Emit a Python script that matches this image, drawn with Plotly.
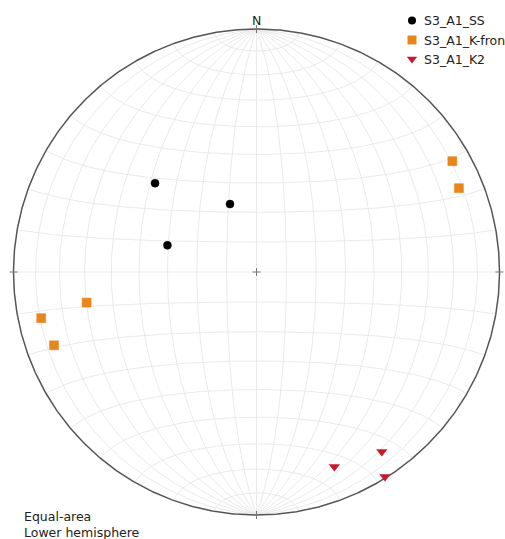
import numpy as np
import plotly.graph_objects as go

# ---- data (trend, plunge in degrees) ----
ss_trend = [311.2, 338.7, 286.7]
ss_plunge = [43.8, 65.5, 58.6]
kf_trend = [60.5, 67.5, 259.8, 257.9, 250.1]
kf_plunge = [8.2, 10.8, 29.7, 10.3, 12.4]
k2_trend = [158.2, 145.1, 147.9]
k2_plunge = [14.8, 10.8, 0.6]
series_names = ["S3_A1_SS", "S3_A1_K-fron", "S3_A1_K2"]
series_colors = ["#000000", "#e8861e", "#c8182c"]
series_symbols = ["circle", "square", "triangle-down"]

# ---- layout constants (pixels) ----
W, H = 505, 539
CX, CY, R = 256.5, 272.0, 243.0
FONT = "DejaVu Sans, Liberation Sans, sans-serif"


def project(E, N, D):
    """Equal-area lower-hemisphere projection of direction cosines."""
    E, N, D = np.asarray(E, float), np.asarray(N, float), np.asarray(D, float)
    s = 1.0 / np.sqrt(1.0 + D)
    return E * s, N * s


def line_xy(trend, plunge):
    t = np.radians(trend)
    p = np.radians(plunge)
    E = np.cos(p) * np.sin(t)
    N = np.cos(p) * np.cos(t)
    D = np.sin(p)
    return project(E, N, D)


def px2x(px):
    return (px - CX) / R


def px2y(py):
    return (CY - py) / R


fig = go.Figure()

# ---- Schmidt net grid ----
gx, gy = [], []
a = np.radians(np.linspace(-90, 90, 181))
for lam in range(10, 180, 10):  # meridians through N and S
    L = np.radians(lam)
    E = np.cos(a) * np.cos(L)
    N = np.sin(a)
    D = np.cos(a) * np.sin(L)
    x, y = project(E, N, D)
    gx += list(x) + [None]
    gy += list(y) + [None]
lam_arr = np.radians(np.linspace(0, 180, 181))
for lat in range(-80, 90, 10):  # small circles about N-S axis
    A = np.radians(lat)
    E = np.cos(A) * np.cos(lam_arr)
    N = np.full_like(lam_arr, np.sin(A))
    D = np.cos(A) * np.sin(lam_arr)
    x, y = project(E, N, D)
    gx += list(x) + [None]
    gy += list(y) + [None]
fig.add_trace(go.Scatter(x=gx, y=gy, mode="lines",
                         line=dict(color="#e4e4e4", width=0.8),
                         hoverinfo="skip", showlegend=False))

# primitive circle
th = np.linspace(0, 2 * np.pi, 721)
fig.add_trace(go.Scatter(x=np.cos(th), y=np.sin(th), mode="lines",
                         line=dict(color="#555555", width=1.5),
                         hoverinfo="skip", showlegend=False))

# cardinal ticks and centre cross
tk = 4 / R
tx = [0, 0, None, 0, 0, None, -1 - tk, -1 + tk, None, 1 - tk, 1 + tk, None,
      -tk, tk, None, 0, 0]
ty = [1 - tk, 1 + tk, None, -1 - tk, -1 + tk, None, 0, 0, None, 0, 0, None,
      0, 0, None, -tk, tk]
fig.add_trace(go.Scatter(x=tx, y=ty, mode="lines",
                         line=dict(color="#777777", width=1),
                         hoverinfo="skip", showlegend=False))

# ---- data points ----
data = [(ss_trend, ss_plunge), (kf_trend, kf_plunge), (k2_trend, k2_plunge)]
sizes = [8, 9, 9]
for (tr, pl), name, col, sym, sz in zip(data, series_names, series_colors,
                                         series_symbols, sizes):
    x, y = line_xy(tr, pl)
    fig.add_trace(go.Scatter(x=x, y=y, mode="markers", name=name,
                             marker=dict(color=col, symbol=sym, size=sz,
                                         line=dict(width=0.5, color=col)),
                             showlegend=False))

# ---- manual legend ----
leg_px_x, leg_text_x = 412, 422
leg_py = [20.5, 40, 59]
for name, col, sym, sz, py in zip(series_names, series_colors, series_symbols,
                                  sizes, leg_py):
    fig.add_trace(go.Scatter(x=[px2x(leg_px_x)], y=[px2y(py)], mode="markers",
                             marker=dict(color=col, symbol=sym, size=sz),
                             hoverinfo="skip", showlegend=False))
    fig.add_annotation(x=px2x(leg_text_x), y=px2y(py), text=name,
                       xanchor="left", yanchor="middle", showarrow=False,
                       font=dict(family=FONT, size=12.5, color="#222222"))

# N label
fig.add_annotation(x=0, y=px2y(20), text="N", showarrow=False,
                   xanchor="center", yanchor="middle",
                   font=dict(family=FONT, size=12.5, color="#222222"))
# bottom-left note
fig.add_annotation(x=px2x(22), y=px2y(524), text="Equal-area<br>Lower hemisphere",
                   showarrow=False, xanchor="left", yanchor="middle", align="left",
                   font=dict(family=FONT, size=12.5, color="#222222"))

fig.update_layout(
    width=W, height=H, margin=dict(l=0, r=0, t=0, b=0),
    paper_bgcolor="white", plot_bgcolor="white",
    xaxis=dict(range=[px2x(0), px2x(W)], visible=False, fixedrange=True),
    yaxis=dict(range=[px2y(H), px2y(0)], visible=False, fixedrange=True),
    showlegend=False,
)

fig.write_html("out.html")
